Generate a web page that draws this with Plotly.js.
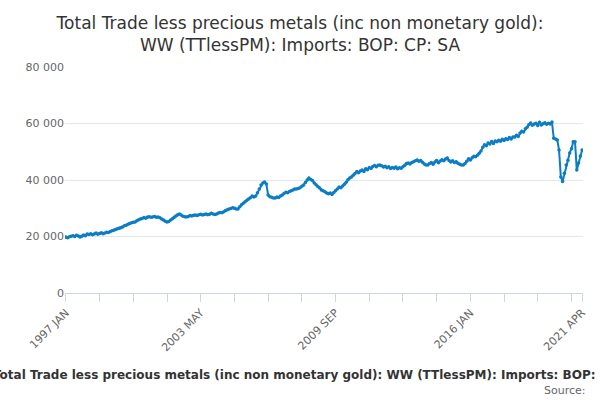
<!DOCTYPE html>
<html><head><meta charset="utf-8">
<script src="https://cdn.plot.ly/plotly-3.0.1.min.js"></script>
<style>body{margin:0}#c{width:600px;height:400px}</style></head>
<body><div id="c"></div>
<script>
const startYear = 1997;
const monthNames = ["JAN","FEB","MAR","APR","MAY","JUN","JUL","AUG","SEP","OCT","NOV","DEC"];
const values = [
19800,19600,19900,20100,20300,20000,20400,20200,19800,20100,20500,20300,20900,
20700,21000,20600,20900,21200,20800,21100,21300,21000,
21200,21500,21400,21800,22000,22200,22500,22700,22900,23100,
23400,23800,24000,24300,24600,24900,25000,
25100,25600,25900,26200,26400,26700,26500,26900,27000,26800,
26900,27100,26800,26900,26600,26200,25800,25400,
25100,25300,25800,26300,26800,27300,27700,
28000,27600,27200,27000,26900,27100,27400,27300,27500,
27600,27400,27700,27900,27600,27800,28000,27700,27900,28200,28000,27800,
28000,28300,28500,28400,28800,29200,29500,
29700,29900,30200,30000,29700,29700,30500,31200,31800,32300,32800,
33300,33700,34300,34000,34300,35500,36800,38200,38900,
39300,38600,34700,34100,33900,33600,
33600,34000,33800,34300,34700,35200,35700,35500,35900,36200,36500,36800,
36800,37000,37300,37800,38200,39100,40000,40700,40200,39800,38900,38300,37700,37200,
36500,36200,35800,35400,35100,35400,34900,35600,36200,36800,37500,37300,37900,38500,39200,40100,40700,
41100,41700,42300,43000,42600,43200,43500,43000,44000,43600,44400,44100,44800,45100,44700,45200,
45300,45000,44600,44900,44300,44700,44100,44400,44200,44600,44000,44300,
44200,44700,45200,45800,46000,45700,46200,46500,46800,
47100,46600,46900,46300,45700,45300,45300,45800,46200,45600,46400,46900,46100,46700,47200,46800,47400,
47800,46900,46400,46800,46200,46500,45900,45600,45300,45300,45800,46600,47500,47100,47900,48400,48200,
48800,49500,50300,51600,52500,52100,53100,52700,53600,52900,53800,
53500,54100,53700,54400,54000,54600,54300,55000,54500,55200,55200,55800,55400,
56600,57300,57000,58100,58700,59600,60200,59400,59800,60100,59300,60400,59500,59900,60300,59700,60100,59800,60500,
54800,54500,54200,50600,41100,39500,42400,45300,47000,49600,51100,53500,53500,43500,46000,48500,50600
];
const months = values.map((v,i)=> (startYear+Math.floor(i/12))+" "+monthNames[i%12]);
const tickIdx = [];
for (let i=0;i<months.length;i+=19) tickIdx.push(i);
tickIdx.push(months.length-1);
const tickText = tickIdx.map((i,k)=> (k%4===0 || i===months.length-1) ? months[i] : "");

Plotly.newPlot("c",[{
  x: months, y: values, type:"scatter", mode:"lines+markers",
  line:{color:"#0b7dc4",width:2}, marker:{color:"#0b7dc4",size:3.5},
  hoverinfo:"x+y"
}],{
  width:600,height:400,
  margin:{l:65,r:17,t:67,b:107},
  separators:". ",
  font:{family:"DejaVu Sans, sans-serif"},
  title:{text:"Total Trade less precious metals (inc non monetary gold):<br>WW (TTlessPM): Imports: BOP: CP: SA",
    font:{size:17,color:"#333"},x:0.5,xanchor:"center",y:0.927,yanchor:"middle"},
  showlegend:false,
  plot_bgcolor:"#fff",paper_bgcolor:"#fff",
  xaxis:{type:"category",tickmode:"array",tickvals:tickIdx.map(i=>months[i]),ticktext:tickText,
    tickangle:-45,ticks:"outside",ticklen:8,tickcolor:"#ccd6eb",showline:true,linecolor:"#ccd6eb",
    showgrid:false,tickfont:{size:11,color:"#666"},range:[-0.5,months.length-0.5],zeroline:false},
  yaxis:{range:[0,80000],tickvals:[0,20000,40000,60000,80000],tickformat:",",
    gridcolor:"#e6e6e6",zeroline:false,tickfont:{size:11,color:"#666"},ticks:"",showline:false},
  annotations:[
    {text:"<b>Total Trade less precious metals (inc non monetary gold): WW (TTlessPM): Imports: BOP: CP: SA</b>",
     xref:"paper",yref:"paper",x:0.49,y:-0.363,xanchor:"center",yanchor:"middle",showarrow:false,
     font:{size:12,color:"#333"}},
    {text:"Source:",xref:"paper",yref:"paper",x:1.01,y:-0.43,xanchor:"right",yanchor:"middle",showarrow:false,
     font:{size:11,color:"#666"}}
  ]
},{displayModeBar:false});
</script></body></html>
